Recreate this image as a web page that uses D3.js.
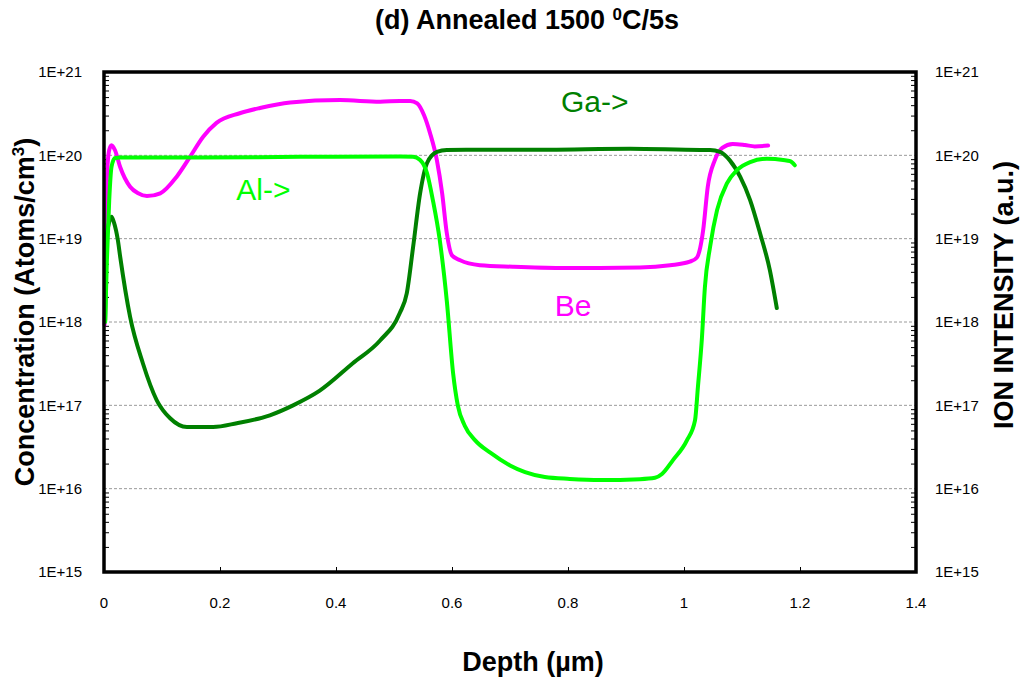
<!DOCTYPE html>
<html>
<head>
<meta charset="utf-8">
<script src="https://cdn.jsdelivr.net/npm/d3@7"></script>
<style>
  html, body { margin: 0; padding: 0; background: #fff; }
  svg { display: block; font-family: Arial, "Liberation Sans", sans-serif; }
</style>
</head>
<body>
<svg id="chart" width="1023" height="683"></svg>
<script>
// SIMS depth profile: depth (µm) vs concentration (atoms/cm3)
const beDepth = [0.001, 0.005, 0.009, 0.013, 0.019, 0.028, 0.045, 0.059, 0.074, 0.097, 0.125, 0.148, 0.171, 0.194, 0.234, 0.269, 0.321, 0.407, 0.476, 0.510, 0.528, 0.540, 0.552, 0.562, 0.574, 0.583, 0.591, 0.600, 0.614, 0.648, 0.705, 0.786, 0.855, 0.924, 0.976, 1.010, 1.022, 1.028, 1.033, 1.041, 1.053, 1.066, 1.084, 1.105, 1.122, 1.145];
const beConc = [9.2e17, 5.5e19, 1.16e20, 1.32e20, 1.15e20, 7.2e19, 4.2e19, 3.5e19, 3.24e19, 3.5e19, 5.5e19, 9.5e19, 1.67e20, 2.45e20, 3.2e20, 3.7e20, 4.3e20, 4.6e20, 4.4e20, 4.5e20, 4.5e20, 4.2e20, 3.0e20, 1.86e20, 8.7e19, 3.5e19, 1.17e19, 6.3e18, 5.5e18, 4.8e18, 4.6e18, 4.45e18, 4.45e18, 4.5e18, 4.8e18, 5.3e18, 5.9e18, 7.8e18, 1.26e19, 4.2e19, 8.7e19, 1.23e20, 1.37e20, 1.33e20, 1.28e20, 1.31e20];

const alDepth = [0.002, 0.005, 0.009, 0.013, 0.019, 0.028, 0.166, 0.338, 0.510, 0.533, 0.545, 0.557, 0.567, 0.579, 0.591, 0.602, 0.610, 0.622, 0.640, 0.666, 0.700, 0.726, 0.760, 0.803, 0.855, 0.924, 0.950, 0.962, 0.981, 1.005, 1.019, 1.024, 1.031, 1.036, 1.045, 1.057, 1.074, 1.091, 1.114, 1.143, 1.171, 1.183, 1.191];
const alConc = [1.0e18, 5.5e18, 2.9e19, 7.3e19, 9.3e19, 9.4e19, 9.4e19, 9.6e19, 9.7e19, 9.6e19, 8.8e19, 6.1e19, 2.9e19, 9.5e18, 1.8e18, 2.4e17, 1.0e17, 5.7e16, 3.8e16, 2.7e16, 1.9e16, 1.58e16, 1.38e16, 1.31e16, 1.27e16, 1.3e16, 1.35e16, 1.5e16, 2.2e16, 3.8e16, 6.6e16, 1.66e17, 6.6e17, 2.6e18, 8.0e18, 2.2e19, 4.6e19, 6.6e19, 8.3e19, 9.1e19, 8.8e19, 8.5e19, 7.6e19];

const gaDepth = [0.002, 0.003, 0.004, 0.009, 0.013, 0.017, 0.024, 0.028, 0.045, 0.067, 0.091, 0.114, 0.143, 0.188, 0.229, 0.286, 0.326, 0.372, 0.429, 0.476, 0.510, 0.522, 0.533, 0.545, 0.557, 0.574, 0.591, 0.769, 0.907, 1.028, 1.045, 1.062, 1.079, 1.097, 1.114, 1.131, 1.148, 1.160];
const gaConc = [1.05e18, 2.4e18, 9.5e18, 1.58e19, 1.83e19, 1.58e19, 9.5e18, 6.0e18, 1.15e18, 3.2e17, 1.15e17, 7.0e16, 5.5e16, 5.5e16, 6.1e16, 7.6e16, 1.0e17, 1.5e17, 3.2e17, 6.0e17, 1.28e18, 2.2e18, 8.0e18, 3.5e19, 8.1e19, 1.1e20, 1.16e20, 1.17e20, 1.2e20, 1.16e20, 1.16e20, 1.1e20, 8.7e19, 5.5e19, 2.9e19, 1.17e19, 4.2e18, 1.47e18];

const xTicks = [0, 0.2, 0.4, 0.6, 0.8, 1, 1.2, 1.4];
const yTicks = [1e15, 1e16, 1e17, 1e18, 1e19, 1e20, 1e21];
const yTickLabels = ["1E+15", "1E+16", "1E+17", "1E+18", "1E+19", "1E+20", "1E+21"];

// in-plot species labels: [text, depth, concentration, colour]
const seriesLabels = [
  ["Ga->", 0.788, 3.3e20, "#008000"],
  ["Al->", 0.228, 2.9e19, "#00ff00"],
  ["Be",   0.777, 1.17e18, "#ff00ff"]
];

const svg = d3.select("#chart");
const plot = { left: 104, right: 916, top: 72, bottom: 572 };

const x = d3.scaleLinear().domain([0, 1.4]).range([plot.left, plot.right]);
const y = d3.scaleLog().domain([1e15, 1e21]).range([plot.bottom, plot.top]);

// dashed decade gridlines
svg.append("g")
  .selectAll("line")
  .data(yTicks.slice(1, -1))
  .join("line")
  .attr("x1", plot.left).attr("x2", plot.right)
  .attr("y1", d => y(d)).attr("y2", d => y(d))
  .attr("stroke", "#9a9a9a")
  .attr("stroke-width", 1)
  .attr("stroke-dasharray", "3,2");

// minor log ticks on both vertical axes, pointing inward
const minor = [];
for (let e = 15; e < 21; e++) for (let m = 2; m <= 9; m++) minor.push(m * Math.pow(10, e));

const leftAxis = d3.axisRight(y).tickValues(minor).tickSize(5).tickFormat("");
const rightAxis = d3.axisLeft(y).tickValues(minor).tickSize(5).tickFormat("");
svg.append("g").attr("transform", `translate(${plot.left},0)`).call(leftAxis)
  .call(g => g.select(".domain").remove())
  .selectAll("line").attr("stroke", "#000");
svg.append("g").attr("transform", `translate(${plot.right},0)`).call(rightAxis)
  .call(g => g.select(".domain").remove())
  .selectAll("line").attr("stroke", "#000");

// x ticks, pointing inward
const xAxis = d3.axisTop(x).tickValues(xTicks).tickSize(5).tickFormat("");
svg.append("g").attr("transform", `translate(0,${plot.bottom})`).call(xAxis)
  .call(g => g.select(".domain").remove())
  .selectAll("line").attr("stroke", "#000");

// tick labels
const tickFont = 15;
svg.append("g").selectAll("text")
  .data(yTicks)
  .join("text")
  .attr("x", 82).attr("y", d => y(d))
  .attr("dy", "0.35em")
  .attr("text-anchor", "end")
  .attr("font-size", tickFont)
  .text((d, i) => yTickLabels[i]);

svg.append("g").selectAll("text")
  .data(yTicks)
  .join("text")
  .attr("x", 935).attr("y", d => y(d))
  .attr("dy", "0.35em")
  .attr("text-anchor", "start")
  .attr("font-size", tickFont)
  .text((d, i) => yTickLabels[i]);

svg.append("g").selectAll("text")
  .data(xTicks)
  .join("text")
  .attr("x", d => x(d)).attr("y", 603)
  .attr("dy", "0.35em")
  .attr("text-anchor", "middle")
  .attr("font-size", tickFont)
  .text(d => d3.format("")(d));

// profiles
const line = d3.line()
  .x(d => x(d[0]))
  .y(d => y(d[1]))
  .curve(d3.curveMonotoneX);

const series = [
  { depth: beDepth, conc: beConc, color: "#ff00ff", width: 4 },
  { depth: gaDepth, conc: gaConc, color: "#008000", width: 4 },
  { depth: alDepth, conc: alConc, color: "#00ff00", width: 4 }
];

svg.append("g").selectAll("path")
  .data(series)
  .join("path")
  .attr("d", s => line(s.depth.map((d, i) => [d, s.conc[i]])))
  .attr("fill", "none")
  .attr("stroke", s => s.color)
  .attr("stroke-width", s => s.width)
  .attr("stroke-linejoin", "round")
  .attr("stroke-linecap", "round");

// species labels
svg.append("g").selectAll("text")
  .data(seriesLabels)
  .join("text")
  .attr("x", d => x(d[1])).attr("y", d => y(d[2]))
  .attr("font-size", 30)
  .attr("fill", d => d[3])
  .text(d => d[0]);

// plot frame
svg.append("rect")
  .attr("x", plot.left).attr("y", plot.top)
  .attr("width", plot.right - plot.left).attr("height", plot.bottom - plot.top)
  .attr("fill", "none").attr("stroke", "#000").attr("stroke-width", 3.5);

// titles
const titleFont = 27;
const title = svg.append("text")
  .attr("x", 527).attr("y", 29)
  .attr("text-anchor", "middle")
  .attr("font-size", titleFont).attr("font-weight", "bold");
title.append("tspan").text("(d) Annealed 1500 ");
title.append("tspan").attr("font-size", 17).attr("dy", -9).text("0");
title.append("tspan").attr("dy", 9).text("C/5s");

svg.append("text")
  .attr("x", 533).attr("y", 671)
  .attr("text-anchor", "middle")
  .attr("font-size", titleFont).attr("font-weight", "bold")
  .text("Depth (µm)");

const yTitle = svg.append("text")
  .attr("transform", "translate(34,312) rotate(-90)")
  .attr("text-anchor", "middle")
  .attr("font-size", titleFont).attr("font-weight", "bold");
yTitle.append("tspan").text("Concentration (Atoms/cm");
yTitle.append("tspan").attr("font-size", 17).attr("dy", -10).text("3");
yTitle.append("tspan").attr("dy", 10).text(")");

svg.append("text")
  .attr("transform", "translate(1013,295) rotate(-90)")
  .attr("text-anchor", "middle")
  .attr("font-size", titleFont).attr("font-weight", "bold")
  .text("ION INTENSITY (a.u.)");
</script>
</body>
</html>
